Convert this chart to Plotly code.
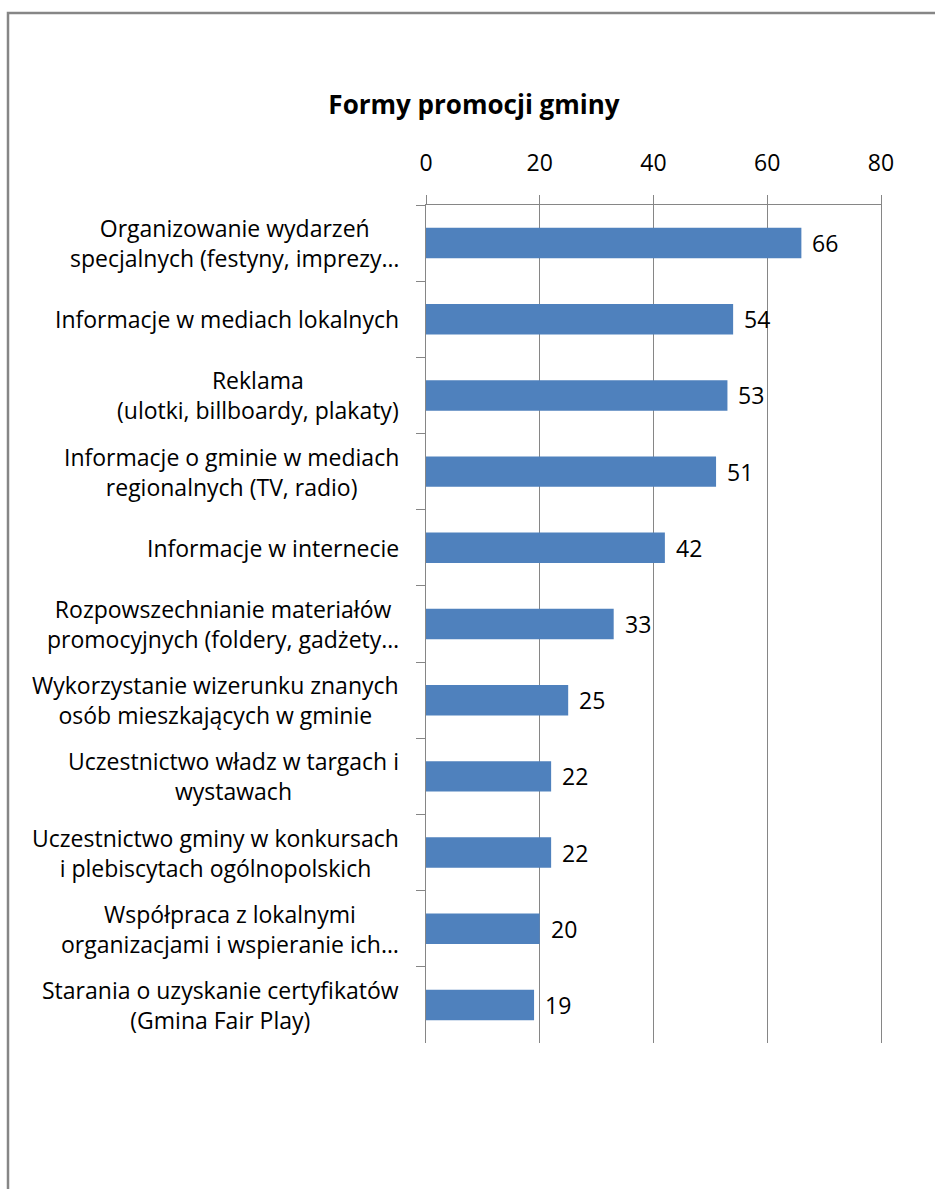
import plotly.graph_objects as go

# ---- data ----
categories = [
    "Organizowanie wydarzeń<br>specjalnych (festyny, imprezy…",
    "Informacje w mediach lokalnych",
    "Reklama<br>(ulotki, billboardy, plakaty)",
    "Informacje o gminie w mediach<br>regionalnych (TV, radio)",
    "Informacje w internecie",
    "Rozpowszechnianie materiałów<br>promocyjnych (foldery, gadżety…",
    "Wykorzystanie wizerunku znanych<br>osób mieszkających w gminie",
    "Uczestnictwo władz w targach i<br>wystawach",
    "Uczestnictwo gminy w konkursach<br>i plebiscytach ogólnopolskich",
    "Współpraca z lokalnymi<br>organizacjami i wspieranie ich…",
    "Starania o uzyskanie certyfikatów<br>(Gmina Fair Play)",
]
values = [66, 54, 53, 51, 42, 33, 25, 22, 22, 20, 19]
x_ticks = [0, 20, 40, 60, 80]
title_text = "Formy promocji gminy"

# ---- style ----
W, H = 935, 1189
ML, MR, MT, MB = 426, 54, 205, 146
FONT = "Open Sans"
GRAY = "#868686"
BAR = "#4F81BD"

fig = go.Figure()
fig.add_trace(go.Bar(
    x=values, y=categories, orientation="h",
    marker=dict(color=BAR, line=dict(width=0)),
    width=0.4, hoverinfo="skip",
))

# value labels
for c, v in zip(categories, values):
    fig.add_annotation(x=v, y=c, xref="x", yref="y", text=str(v),
                       showarrow=False, xanchor="left", xshift=9,
                       font=dict(family=FONT, size=23, color="black"))

# category labels (centered lines, right-anchored block)
for c in categories:
    fig.add_annotation(x=0, y=c, xref="paper", yref="y", text=c,
                       showarrow=False, xanchor="right", align="center",
                       xshift=-25,
                       font=dict(family=FONT, size=23, color="black"))

pw = W - ML - MR
ph = H - MT - MB
def px_x(p):
    return (p - ML) / pw
def px_y(p):
    return (H - MB - p) / ph

# outer border (left and top visible)
fig.add_shape(type="rect", xref="paper", yref="paper",
              x0=px_x(8), x1=px_x(960), y0=px_y(1220), y1=px_y(13),
              line=dict(color=GRAY, width=2.5), fillcolor="rgba(0,0,0,0)",
              layer="below")

fig.update_layout(
    width=W, height=H,
    margin=dict(l=ML, r=MR, t=MT, b=MB, pad=0),
    paper_bgcolor="white", plot_bgcolor="white",
    showlegend=False,
    title=dict(text="<b>" + title_text + "</b>", x=474 / W,
               xanchor="center", y=1 - 105 / H, yanchor="middle",
               font=dict(family=FONT, size=26, color="black")),
    xaxis=dict(side="top", range=[0, 80], tickvals=x_ticks,
               ticktext=[str(t) for t in x_ticks],
               showgrid=True, gridcolor=GRAY, gridwidth=1,
               showline=True, linecolor=GRAY, linewidth=1,
               ticks="outside", ticklen=9, tickcolor=GRAY, tickwidth=1,
               ticklabelstandoff=15, zeroline=False,
               tickfont=dict(family=FONT, size=23, color="black")),
    yaxis=dict(type="category", categoryorder="array",
               categoryarray=categories, autorange="reversed",
               showticklabels=False, showgrid=False, zeroline=False,
               showline=True, mirror=True, linecolor=GRAY, linewidth=1,
               ticks="outside", ticklen=9, tickcolor=GRAY, tickwidth=1,
               tickson="boundaries"),
)

fig.write_html("out.html")
